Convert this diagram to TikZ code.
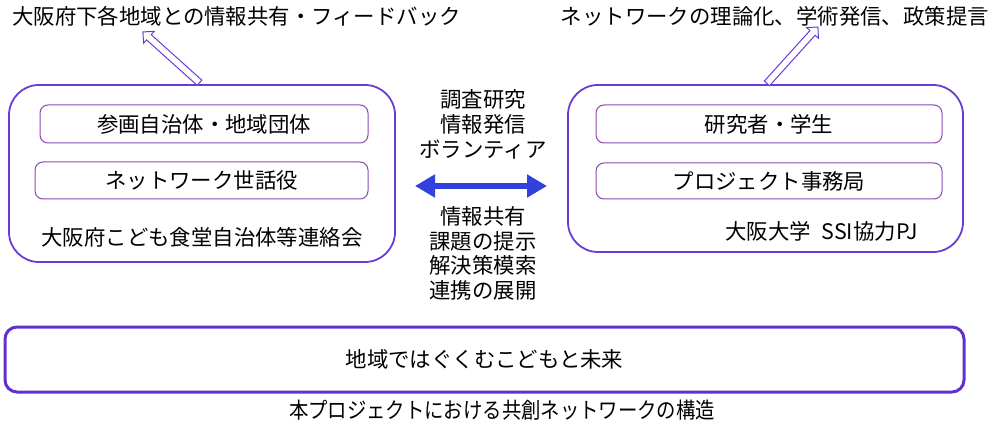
\documentclass[tikz,border=0pt]{standalone}
\usepackage{fontspec}
\setmainfont{Noto Sans CJK JP}
\usetikzlibrary{shapes.arrows,arrows.meta}
\definecolor{framepurple}{RGB}{106,60,214}
\definecolor{innerpurple}{RGB}{140,70,180}
\definecolor{basepurple}{RGB}{96,48,208}
\definecolor{linkblue}{RGB}{50,64,220}
\newcommand{\jpsize}[1]{\fontsize{#1}{25}\selectfont}
\tikzset{
  groupbox/.style={draw=framepurple, line width=1.8pt, rounded corners=30pt,
    inner sep=0pt, outer sep=0pt},
  memberbox/.style={draw=innerpurple, line width=1pt, rounded corners=8pt,
    inner sep=0pt, outer sep=0pt, font=\jpsize{21.4}},
  basebox/.style={draw=basepurple, line width=3pt, rounded corners=12pt,
    inner sep=0pt, outer sep=0pt, font=\jpsize{21.4}},
  label/.style={inner sep=0pt, font=\jpsize{21.4}},
  feedarrow/.style={single arrow, draw=framepurple, line width=1pt, fill=white,
    minimum height=76pt, minimum width=15pt, single arrow head extend=4.5pt,
    inner sep=3pt, outer sep=0pt, sloped, allow upside down},
  linkarrow/.style={draw=linkblue, line width=6pt,
    {Triangle[length=20pt,width=22pt]}-{Triangle[length=20pt,width=22pt]}}
}
\begin{document}
\begin{tikzpicture}[x=1pt,y=-1pt]
  \useasboundingbox (0,0) rectangle (992,427);
  % left group
  \node[groupbox, minimum width=386pt, minimum height=177pt] (leftbox) at (202,173.5) {};
  \node[memberbox, minimum width=328pt, minimum height=38pt] (munic) at (204,124) {参画自治体・地域団体};
  \node[memberbox, minimum width=333pt, minimum height=37pt] (carer) at (201.5,180.5) {ネットワーク世話役};
  \node[label] (leftname) at (202,237) {大阪府こども食堂自治体等連絡会};
  % right group
  \node[groupbox, minimum width=395pt, minimum height=167pt] (rightbox) at (765.5,168.5) {};
  \node[memberbox, minimum width=346pt, minimum height=38pt] (staff) at (769,124) {研究者・学生};
  \node[memberbox, minimum width=346pt, minimum height=36pt] (office) at (769,181) {プロジェクト事務局};
  \node[label] (rightname) at (821.5,231) {大阪大学\hspace{0.5em}SSI協力PJ};
  % outputs
  \node[label, anchor=west] (lefttext) at (12,16) {大阪府下各地域との情報共有・フィードバック};
  \node[label, anchor=east] (righttext) at (989,16) {ネットワークの理論化、学術発信、政策提言};
  \coordinate (lefttip) at (143,32);
  \coordinate (righttip) at (817,28);
  \path (leftbox.north) -- node[feedarrow] (leftfeed) {} (lefttip);
  \path (rightbox.north) -- node[feedarrow] (rightfeed) {} (righttip);
  % exchange between groups
  \node[label, align=center] (fromuni) at (483,124) {調査研究\\情報発信\\ボランティア};
  \node[label, align=center, font=\fontsize{21.4}{24.5}\selectfont] (fromlocal) at (483,253.5) {情報共有\\課題の提示\\解決策模索\\連携の展開};
  \coordinate (linkL) at (415,186);
  \coordinate (linkR) at (547,186);
  \draw[linkarrow] (linkL) -- (linkR);
  % base
  \node[basebox, minimum width=959pt, minimum height=65pt] (future) at (484.5,359.5) {地域ではぐくむこどもと未来};
  \node[label, font=\jpsize{22}] (caption) at (502,410) {\scalebox{0.88}[1]{本プロジェクトにおける共創ネットワークの構造}};
\end{tikzpicture}
\end{document}
